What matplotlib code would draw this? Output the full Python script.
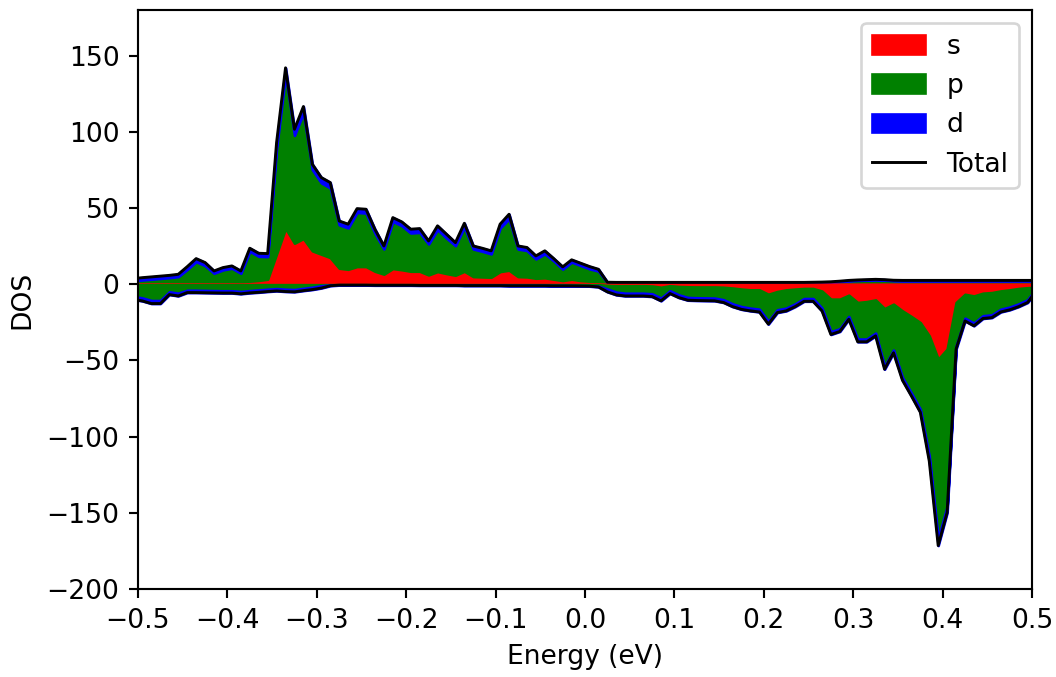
import numpy as np
import matplotlib
matplotlib.use("Agg")
import matplotlib.pyplot as plt

# energy grid (eV)
energy = np.concatenate(([-0.5], np.round(np.arange(-0.495, 0.5, 0.01), 3), [0.5]))

# spin up projections
s_up = [0.5, 0.5, 0.5, 0.5, 0.6, 0.7, 1.0, 1.5, 1.3, 1.0,
        1.2, 1.5, 1.2, 2.0, 2.5, 3.3, 20.0, 36.7, 26.9, 30.0,
        21.9, 19.7, 17.5, 10.5, 9.8, 11.6, 11.6, 8.5, 6.6, 10.3,
        9.5, 8.5, 8.5, 6.1, 8.3, 7.0, 5.9, 8.5, 5.0, 4.8,
        4.6, 8.3, 9.2, 5.0, 4.8, 3.9, 4.2, 3.3, 2.4, 3.3,
        2.4, 2.0, 1.8, 0.3, 0.3, 0.3, 0.3, 0.3, 0.3, 0.3,
        0.3, 0.3, 0.3, 0.3, 0.3, 0.3, 0.3, 0.3, 0.3, 0.3,
        0.3, 0.3, 0.3, 0.3, 0.3, 0.3, 0.3, 0.3, 0.3, 0.3,
        0.3, 0.3, 0.3, 0.3, 0.3, 0.3, 0.3, 0.3, 0.3, 0.3,
        0.3, 0.3, 0.3, 0.3, 0.3, 0.3, 0.3, 0.3, 0.3, 0.3,
        0.3, 0.3]
p_up = [2.0, 2.3, 2.8, 3.3, 3.7, 4.3, 8.7, 13.3, 10.9, 6.2,
        8.2, 9.0, 6.0, 19.6, 15.8, 14.8, 69.5, 101.3, 70.8, 82.6,
        53.3, 46.8, 45.7, 28.5, 27.1, 35.5, 35.1, 25.0, 16.5, 30.9,
        28.9, 25.1, 25.5, 20.3, 27.5, 23.3, 19.4, 29.0, 18.1, 16.8,
        15.3, 28.6, 33.7, 18.1, 17.3, 12.7, 15.7, 12.0, 7.5, 11.2,
        9.9, 8.1, 6.8, 0.7, 0.6, 0.6, 0.6, 0.6, 0.6, 0.6,
        0.6, 0.6, 0.6, 0.6, 0.6, 0.6, 0.6, 0.6, 0.6, 0.6,
        0.6, 0.6, 0.6, 0.6, 0.6, 0.6, 0.7, 0.8, 1.0, 1.4,
        1.9, 2.2, 2.4, 2.6, 2.4, 2.0, 1.9, 1.9, 1.9, 1.9,
        1.9, 1.9, 1.9, 1.9, 1.9, 1.9, 1.9, 1.9, 1.9, 1.9,
        1.9, 1.9]
d_up = [1.5, 1.5, 1.5, 1.5, 1.5, 1.5, 1.8, 2.0, 2.0, 1.5,
        1.5, 1.5, 1.5, 2.0, 2.0, 2.0, 3.5, 4.0, 4.0, 4.0,
        3.5, 3.5, 3.5, 2.5, 2.5, 2.5, 2.5, 2.5, 2.0, 2.5,
        2.5, 2.5, 2.5, 2.0, 2.5, 2.5, 2.0, 2.5, 2.0, 2.0,
        2.0, 2.5, 3.0, 2.0, 2.0, 2.0, 2.0, 1.5, 1.5, 1.5,
        1.5, 1.5, 1.2, 0.3, 0.3, 0.3, 0.3, 0.3, 0.3, 0.3,
        0.3, 0.3, 0.3, 0.3, 0.3, 0.3, 0.3, 0.3, 0.3, 0.3,
        0.3, 0.3, 0.3, 0.3, 0.3, 0.3, 0.3, 0.3, 0.3, 0.3,
        0.3, 0.3, 0.3, 0.3, 0.3, 0.3, 0.3, 0.3, 0.3, 0.3,
        0.3, 0.3, 0.3, 0.3, 0.3, 0.3, 0.3, 0.3, 0.3, 0.3,
        0.3, 0.3]

# spin down projections
s_dn = [-0.3, -0.3, -0.3, -0.3, -0.3, -0.3, -0.3, -0.3, -0.3, -0.3,
        -0.3, -0.3, -0.3, -0.3, -0.3, -0.3, -0.3, -0.3, -0.3, -0.3,
        -0.3, -0.3, -0.3, -0.3, -0.3, -0.3, -0.3, -0.3, -0.3, -0.3,
        -0.3, -0.3, -0.3, -0.3, -0.3, -0.3, -0.3, -0.3, -0.3, -0.3,
        -0.3, -0.3, -0.3, -0.3, -0.3, -0.3, -0.3, -0.3, -0.3, -0.3,
        -0.3, -0.3, -0.3, -0.8, -1.0, -1.0, -1.0, -1.0, -1.2, -2.0,
        -1.0, -1.5, -1.7, -1.8, -1.8, -1.8, -2.0, -2.5, -3.2, -3.7,
        -3.7, -6.6, -4.8, -3.7, -3.2, -2.8, -2.8, -4.5, -9.8, -9.8,
        -7.2, -12.0, -11.4, -10.3, -16.0, -13.1, -17.5, -21.2, -25.2, -33.9,
        -49.2, -42.6, -12.0, -6.6, -7.7, -5.9, -5.5, -4.4, -3.7, -2.8,
        -2.3, -2.2]
p_dn = [-8.2, -8.7, -10.4, -10.4, -4.7, -5.6, -3.7, -3.7, -3.8, -3.9,
        -4.0, -4.0, -4.5, -3.9, -3.5, -3.0, -2.6, -3.0, -3.2, -2.4,
        -1.7, -0.7, -0.3, -0.1, -0.1, -0.1, -0.1, -0.2, -0.2, -0.2,
        -0.2, -0.2, -0.3, -0.3, -0.3, -0.3, -0.3, -0.4, -0.4, -0.4,
        -0.4, -0.4, -0.5, -0.5, -0.5, -0.5, -0.5, -0.6, -0.6, -0.6,
        -0.7, -0.7, -1.0, -2.4, -4.2, -4.9, -4.9, -4.9, -5.1, -7.1,
        -3.3, -5.5, -7.0, -7.1, -7.2, -7.3, -8.2, -10.4, -11.5, -12.0,
        -12.7, -17.8, -12.0, -12.0, -9.7, -6.6, -6.6, -11.2, -21.4, -19.4,
        -14.0, -24.0, -24.6, -21.8, -38.0, -30.1, -43.7, -50.3, -57.0, -79.1,
        -117.8, -103.2, -28.6, -15.7, -17.8, -14.8, -14.6, -12.0, -11.3, -10.1,
        -7.9, -4.1]
d_dn = [-2.0, -2.0, -2.0, -2.0, -1.8, -1.8, -1.5, -1.5, -1.5, -1.5,
        -1.5, -1.5, -1.5, -1.5, -1.5, -1.5, -1.5, -1.5, -1.5, -1.5,
        -1.5, -1.5, -0.4, -0.2, -0.2, -0.2, -0.2, -0.2, -0.2, -0.2,
        -0.2, -0.2, -0.2, -0.2, -0.2, -0.2, -0.2, -0.2, -0.2, -0.2,
        -0.2, -0.2, -0.2, -0.2, -0.2, -0.2, -0.2, -0.2, -0.2, -0.2,
        -0.2, -0.3, -0.5, -1.8, -1.8, -1.8, -1.8, -1.8, -1.8, -1.8,
        -1.8, -1.8, -1.8, -1.8, -1.8, -1.8, -1.8, -1.8, -1.8, -1.8,
        -1.8, -1.8, -1.8, -1.8, -1.8, -1.8, -1.8, -1.8, -1.8, -1.8,
        -1.8, -1.8, -1.8, -1.8, -1.8, -1.8, -1.8, -1.8, -1.8, -3.0,
        -4.5, -4.0, -2.0, -1.8, -1.8, -1.8, -1.8, -1.8, -1.8, -1.8,
        -1.8, -1.8]

s_up, p_up, d_up = np.array(s_up), np.array(p_up), np.array(d_up)
s_dn, p_dn, d_dn = np.array(s_dn), np.array(p_dn), np.array(d_dn)

fig = plt.figure(figsize=(5.529, 3.545), dpi=191)
ax = fig.add_axes([0.1307, 0.13, 0.8466, 0.8552])

# stacked orbitals, spin up then spin down
ax.fill_between(energy, 0, s_up, color="red", label="s")
ax.fill_between(energy, s_up, s_up + p_up, color="green", label="p")
ax.fill_between(energy, s_up + p_up, s_up + p_up + d_up, color="blue", label="d")
ax.fill_between(energy, 0, s_dn, color="red")
ax.fill_between(energy, s_dn, s_dn + p_dn, color="green")
ax.fill_between(energy, s_dn + p_dn, s_dn + p_dn + d_dn, color="blue")

ax.plot(energy, s_up + p_up + d_up, c="black", lw=1.1, label="Total")
ax.plot(energy, s_dn + p_dn + d_dn, c="black", lw=1.1)

ax.set_xlim(-0.5, 0.5)
ax.set_ylim(-200, 180)
ax.set_xticks(np.round(np.arange(-0.5, 0.51, 0.1), 1))
ax.set_yticks(np.arange(-200, 151, 50))
ax.set_xlabel("Energy (eV)")
ax.set_ylabel("DOS")
ax.legend(loc="upper right")

fig.savefig("out.png", dpi=191)
